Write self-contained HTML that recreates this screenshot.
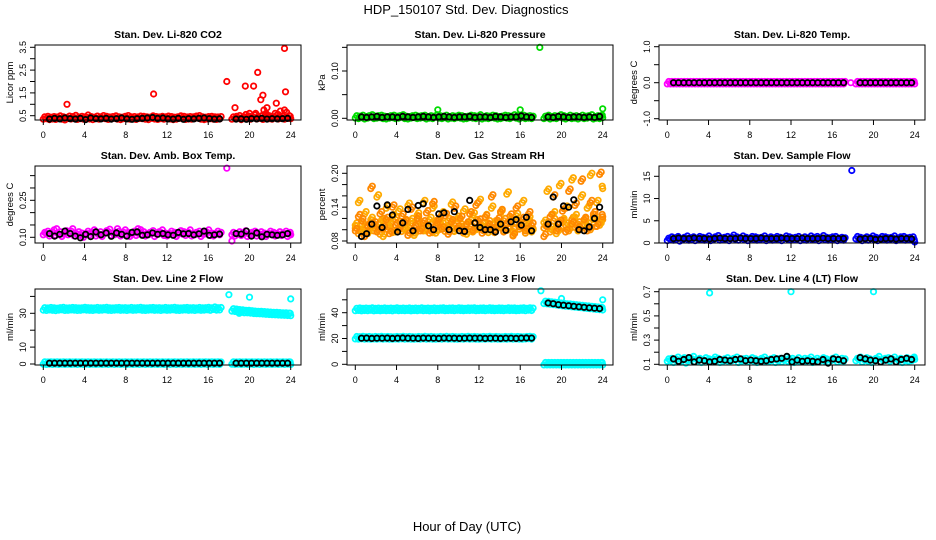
<!DOCTYPE html>
<html><head><meta charset="utf-8">
<style>
html,body{margin:0;padding:0;background:#fff;}
svg{display:block;font-family:"Liberation Sans",sans-serif;}
.pt{font-size:10.5px;font-weight:bold;}
.tk{font-size:9px;}
</style></head>
<body>
<svg id="c" width="936" height="540" viewBox="0 0 936 540">
<rect width="936" height="540" fill="#fff"/>
<text x="466" y="14" text-anchor="middle" font-size="13">HDP_150107  Std. Dev. Diagnostics</text>
<text x="467" y="531" text-anchor="middle" font-size="13">Hour of Day (UTC)</text>
</svg>
<script>
const hoursA=[0,0.3,0.6,0.9,1.2,1.5,1.8,2.1,2.4,2.7,3,3.3,3.6,3.9,4.2,4.5,4.8,5.1,5.4,5.7,6,6.3,6.6,6.9,7.2,7.5,7.8,8.1,8.4,8.7,9,9.3,9.6,9.9,10.2,10.5,10.8,11.1,11.4,11.7,12,12.3,12.6,12.9,13.2,13.5,13.8,14.1,14.4,14.7,15,15.3,15.6,15.9,16.2,16.5,16.8,17.1,18.3,18.6,18.9,19.2,19.5,19.8,20.1,20.4,20.7,21,21.3,21.6,21.9,22.2,22.5,22.8,23.1,23.4,23.7,24];
const hoursC=[0.15,0.45,0.75,1.05,1.35,1.65,1.95,2.25,2.55,2.85,3.15,3.45,3.75,4.05,4.35,4.65,4.95,5.25,5.55,5.85,6.15,6.45,6.75,7.05,7.35,7.65,7.95,8.25,8.55,8.85,9.15,9.45,9.75,10.05,10.35,10.65,10.95,11.25,11.55,11.85,12.15,12.45,12.75,13.05,13.35,13.65,13.95,14.25,14.55,14.85,15.15,15.45,15.75,16.05,16.35,16.65,16.95,17.25,18.45,18.75,19.05,19.35,19.65,19.95,20.25,20.55,20.85,21.15,21.45,21.75,22.05,22.35,22.65,22.95,23.25,23.55,23.85,23.95];
const hoursB=[0.6,1.1,1.6,2.1,2.6,3.1,3.6,4.1,4.6,5.1,5.6,6.1,6.6,7.1,7.6,8.1,8.6,9.1,9.6,10.1,10.6,11.1,11.6,12.1,12.6,13.1,13.6,14.1,14.6,15.1,15.6,16.1,16.6,17.1,18.7,19.2,19.7,20.2,20.7,21.2,21.7,22.2,22.7,23.2,23.7];
const xTicks=[0,4,8,12,16,20,24];

// Panel 1 CO2
const co2Red=[0.40,0.42,0.38,0.41,0.39,0.44,0.40,0.37,0.43,0.41,0.46,0.39,0.42,0.40,0.48,0.41,0.38,0.43,0.40,0.45,0.42,0.39,0.41,0.44,0.40,0.38,0.42,0.45,0.40,0.41,0.39,0.43,0.42,0.40,0.38,0.44,0.41,0.39,0.42,0.40,0.43,0.41,0.38,0.40,0.44,0.42,0.39,0.41,0.40,0.43,0.45,0.40,0.38,0.41,0.42,0.40,0.39,0.41,0.40,0.42,0.45,0.38,0.50,0.43,0.40,0.48,0.41,0.44,0.39,0.46,0.42,0.40,0.47,0.41,0.43,0.40,0.45,0.42];
const co2Black=[0.35,0.38,0.36,0.40,0.37,0.35,0.38,0.33,0.40,0.37,0.36,0.38,0.35,0.37,0.40,0.36,0.34,0.37,0.38,0.40,0.42,0.38,0.40,0.36,0.35,0.38,0.34,0.37,0.36,0.38,0.40,0.37,0.35,0.36,0.35,0.36,0.34,0.37,0.36,0.38,0.35,0.37,0.36,0.37,0.38];
const co2OutX=[2.3,10.7,17.8,18.6,19.6,20.0,20.4,20.6,20.8,21.1,21.3,21.4,21.6,21.7,22.6,22.5,23.0,23.4,23.5,23.4,23.6,22.8,21.9];
const co2OutY=[1.0,1.45,2.0,0.85,1.8,0.6,1.8,0.6,2.4,1.2,1.4,0.75,0.6,0.85,1.05,0.6,0.7,3.45,1.55,0.75,0.65,0.55,0.5];
// Panel 2 pressure
const presGreen=[0.003,0.002,0.004,0.001,0.003,0.005,0.002,0.003,0.004,0.002,0.001,0.003,0.004,0.002,0.003,0.005,0.002,0.001,0.003,0.004,0.002,0.003,0.004,0.001,0.003,0.002,0.005,0.003,0.002,0.004,0.001,0.003,0.002,0.004,0.003,0.001,0.002,0.004,0.003,0.002,0.005,0.001,0.003,0.002,0.004,0.003,0.001,0.002,0.004,0.003,0.002,0.005,0.003,0.001,0.004,0.002,0.003,0.002,0.002,0.004,0.001,0.003,0.002,0.005,0.003,0.001,0.004,0.002,0.003,0.001,0.004,0.002,0.003,0.005,0.001,0.003,0.002,0.004];
const presBlack=[0.003,0.002,0.003,0.004,0.002,0.003,0.003,0.002,0.004,0.003,0.002,0.003,0.004,0.003,0.002,0.003,0.004,0.003,0.002,0.003,0.003,0.004,0.002,0.003,0.003,0.002,0.004,0.003,0.002,0.003,0.003,0.005,0.003,0.002,0.003,0.002,0.004,0.003,0.002,0.003,0.003,0.002,0.003,0.002,0.004];
const presOutX=[8,16,17.9,24];
const presOutY=[0.018,0.018,0.15,0.02];
// Panel 3 temp
const tempMag=[0,0,0,0,0,0,0,0,0,0,0,0,0,0,0,0,0,0,0,0,0,0,0,0,0,0,0,0,0,0,0,0,0,0,0,0,0,0,0,0,0,0,0,0,0,0,0,0,0,0,0,0,0,0,0,0,0,0,0,0,0,0,0,0,0,0,0,0,0,0,0,0,0,0,0,0,0,0];
const tempBlack=[0,0,0,0,0,0,0,0,0,0,0,0,0,0,0,0,0,0,0,0,0,0,0,0,0,0,0,0,0,0,0,0,0,0,0,0,0,0,0,0,0,0,0,0,0];
const tempOutX=[17.8];
const tempOutY=[0];
// Panel 4 amb box
const ambMag=[0.115,0.120,0.110,0.125,0.112,0.118,0.108,0.122,0.115,0.130,0.110,0.118,0.112,0.105,0.120,0.115,0.125,0.110,0.118,0.108,0.122,0.128,0.112,0.115,0.120,0.110,0.125,0.115,0.108,0.120,0.112,0.126,0.118,0.110,0.115,0.122,0.108,0.118,0.125,0.112,0.110,0.120,0.115,0.108,0.122,0.118,0.112,0.125,0.110,0.115,0.120,0.108,0.118,0.125,0.112,0.110,0.120,0.115,0.115,0.110,0.118,0.112,0.122,0.108,0.115,0.120,0.110,0.118,0.112,0.108,0.120,0.115,0.110,0.118,0.112,0.120,0.108,0.115];
const ambBlack=[0.115,0.105,0.112,0.125,0.115,0.105,0.098,0.112,0.103,0.122,0.110,0.118,0.104,0.118,0.112,0.105,0.120,0.122,0.108,0.110,0.118,0.112,0.115,0.110,0.108,0.120,0.114,0.115,0.110,0.114,0.125,0.108,0.110,0.113,0.115,0.113,0.125,0.105,0.118,0.102,0.112,0.110,0.108,0.110,0.115];
const ambOutX=[17.8,18.3,1.3,7.2,9.2];
const ambOutY=[0.38,0.085,0.135,0.135,0.135];
// Panel 5 RH
const rhA=[0.110,0.150,0.100,0.130,0.095,0.120,0.105,0.160,0.115,0.090,0.140,0.108,0.125,0.098,0.135,0.112,0.102,0.145,0.118,0.092,0.128,0.106,0.150,0.100,0.120,0.140,0.096,0.113,0.130,0.104,0.118,0.147,0.099,0.122,0.108,0.135,0.094,0.116,0.128,0.102,0.152,0.110,0.125,0.097,0.140,0.114,0.106,0.132,0.100,0.165,0.119,0.093,0.127,0.109,0.150,0.103,0.121,0.098,0.115,0.170,0.104,0.130,0.095,0.180,0.118,0.140,0.107,0.190,0.125,0.100,0.160,0.112,0.140,0.198,0.120,0.150,0.110,0.175];
const rhB=[0.100,0.125,0.118,0.090,0.108,0.175,0.112,0.098,0.130,0.104,0.120,0.095,0.142,0.110,0.102,0.126,0.116,0.092,0.138,0.106,0.122,0.100,0.114,0.132,0.096,0.148,0.109,0.120,0.103,0.127,0.094,0.116,0.140,0.105,0.122,0.099,0.112,0.130,0.101,0.145,0.117,0.096,0.124,0.108,0.160,0.102,0.119,0.134,0.098,0.112,0.126,0.091,0.140,0.107,0.120,0.100,0.130,0.110,0.090,0.108,0.125,0.160,0.100,0.115,0.135,0.098,0.170,0.112,0.145,0.104,0.188,0.120,0.100,0.150,0.130,0.108,0.200,0.125];
const rhC=[0.105,0.095,0.112,0.102,0.098,0.115,0.100,0.108,0.094,0.118,0.103,0.110,0.097,0.120,0.106,0.099,0.114,0.101,0.109,0.096,0.117,0.104,0.100,0.112,0.108,0.097,0.115,0.102,0.110,0.099,0.107,0.113,0.100,0.118,0.104,0.096,0.111,0.103,0.098,0.116,0.105,0.109,0.100,0.114,0.102,0.097,0.112,0.106,0.118,0.101,0.108,0.099,0.115,0.103,0.110,0.096,0.113,0.100,0.105,0.112,0.098,0.118,0.108,0.102,0.115,0.110,0.100,0.120,0.106,0.112,0.104,0.118,0.110,0.102,0.125,0.108,0.115,0.120];
const rhBlack=[0.088,0.093,0.110,0.142,0.104,0.144,0.126,0.096,0.112,0.136,0.098,0.143,0.146,0.107,0.100,0.128,0.130,0.100,0.132,0.098,0.097,0.152,0.112,0.104,0.100,0.100,0.096,0.110,0.099,0.114,0.118,0.108,0.122,0.098,0.110,0.158,0.110,0.142,0.140,0.153,0.100,0.098,0.105,0.120,0.140];
// Panel 6 sample flow
const flowBlue=[0.8,1.1,0.9,1.2,0.7,1.0,1.3,0.9,1.1,0.8,1.2,1.0,0.9,1.3,0.8,1.1,1.4,0.9,1.0,1.2,0.8,1.5,1.1,0.9,1.3,1.0,0.8,1.2,1.1,0.9,1.0,1.3,0.8,1.1,0.9,1.2,1.0,0.8,1.3,1.1,0.9,1.0,1.2,0.8,1.1,0.9,1.3,1.0,1.2,0.8,1.4,1.0,0.9,1.1,1.2,0.8,1.0,0.9,1.2,1.0,0.8,1.1,0.9,1.3,1.0,0.8,1.2,1.1,0.9,1.0,1.3,0.8,1.1,1.2,0.9,1.0,1.1,0.5];
const flowBlack=[1.0,1.1,1.0,1.0,1.1,1.0,1.0,0.9,1.0,1.1,1.0,1.0,1.0,1.1,1.0,1.0,1.0,1.1,1.0,1.0,1.0,1.1,1.0,1.0,1.0,1.1,1.0,1.0,1.0,1.1,1.0,1.0,1.0,1.0,0.9,1.0,1.0,0.8,0.9,1.0,1.0,0.9,1.0,1.0,0.9];
const flowOutX=[17.9];
const flowOutY=[16.3];
// Panel 7 line 2
const l2Top=[32.6,32.4,32.7,32.5,32.3,32.6,32.8,32.4,32.5,32.7,32.6,32.4,32.5,32.8,32.6,32.5,32.4,32.7,32.5,32.6,32.8,32.5,32.4,32.6,32.7,32.5,32.6,32.4,32.7,32.5,32.6,32.8,32.5,32.4,32.6,32.7,32.5,32.6,32.4,32.7,32.5,32.6,32.8,32.5,32.4,32.6,32.7,32.5,32.6,32.4,32.7,32.5,32.6,32.8,32.5,33.0,32.6,32.7,32.0,31.8,31.5,31.3,31.0,31.0,30.8,30.6,30.5,30.4,30.3,30.1,30.0,29.9,29.8,29.7,29.6,29.5,29.4,29.3];
const l2Low=[0.6,0.5,0.6,0.5,0.6,0.5,0.6,0.5,0.6,0.5,0.6,0.5,0.6,0.5,0.6,0.5,0.6,0.5,0.6,0.5,0.6,0.5,0.6,0.5,0.6,0.5,0.6,0.5,0.6,0.5,0.6,0.5,0.6,0.5,0.6,0.5,0.6,0.5,0.6,0.5,0.6,0.5,0.6,0.5,0.6,0.5,0.6,0.5,0.6,0.5,0.6,0.5,0.6,0.5,0.6,0.5,0.6,0.5,0.6,0.5,0.6,0.5,0.6,0.5,0.6,0.5,0.6,0.5,0.6,0.5,0.6,0.5,0.6,0.5,0.6,0.5,0.6,0.5];
const l2Black=[0.5,0.5,0.5,0.5,0.5,0.5,0.5,0.5,0.5,0.5,0.5,0.5,0.5,0.5,0.5,0.5,0.5,0.5,0.5,0.5,0.5,0.5,0.5,0.5,0.5,0.5,0.5,0.5,0.5,0.5,0.5,0.5,0.5,0.5,0.5,0.5,0.5,0.5,0.5,0.5,0.5,0.5,0.5,0.5,0.5];
const l2OutX=[18,20,24,19.0];
const l2OutY=[41,39.5,38.5,30];
// Panel 8 line 3
const l3A=[42.5,42.7,42.4,42.6,42.5,42.8,42.4,42.6,42.5,42.7,42.5,42.6,42.4,42.8,42.5,42.6,42.5,42.7,42.4,42.6,42.5,42.8,42.5,42.6,42.4,42.7,42.5,42.6,42.8,42.5,42.6,42.7,42.5,42.8,42.6,42.5,42.7,42.6,42.8,42.5,42.6,42.7,42.5,42.8,42.6,42.5,42.7,42.6,42.5,42.8,42.6,42.7,42.5,42.6,42.8,42.5,42.9,42.6,0.5,0.5,0.5,0.5,0.5,0.5,0.5,0.5,0.5,0.5,0.5,0.5,0.5,0.5,0.5,0.5,0.5,0.5,0.5,0.5];
const l3B=[20.6,20.5,20.7,20.5,20.6,20.4,20.6,20.5,20.7,20.5,20.6,20.5,20.4,20.6,20.5,20.7,20.5,20.6,20.5,20.4,20.6,20.5,20.7,20.5,20.6,20.5,20.4,20.6,20.5,20.7,20.5,20.6,20.5,20.4,20.6,20.5,20.7,20.5,20.6,20.5,20.4,20.6,20.5,20.7,20.5,20.6,20.5,20.4,20.6,20.5,20.7,20.5,20.6,20.5,20.4,20.6,20.8,20.5,48,47.8,47.5,47.2,47,46.6,46.3,46,45.8,45.5,45.3,45,44.8,44.5,44.3,44,43.8,43.5,43.3,43];
const l3Black=[20.2,20.3,20.1,20.2,20.2,20.3,20.1,20.2,20.4,20.2,20.2,20.1,20.3,20.2,20.2,20.1,20.3,20.2,20.2,20.1,20.2,20.3,20.2,20.3,20.1,20.2,20.2,20.1,20.2,20.2,20.1,20.3,20.4,20.3,47.5,47,46.2,45.8,45.4,45,44.6,44.2,43.8,43.5,43.2];
const l3OutX=[18,20,24];
const l3OutY=[57,51,50];
// Panel 9 line 4
const l4Cyan=[0.135,0.14,0.125,0.15,0.13,0.145,0.12,0.14,0.155,0.13,0.14,0.125,0.145,0.135,0.13,0.15,0.14,0.125,0.135,0.145,0.13,0.14,0.15,0.125,0.135,0.14,0.13,0.145,0.135,0.125,0.14,0.15,0.13,0.135,0.145,0.125,0.14,0.13,0.15,0.135,0.14,0.125,0.145,0.13,0.14,0.135,0.15,0.125,0.14,0.13,0.145,0.135,0.125,0.14,0.15,0.13,0.14,0.135,0.14,0.15,0.13,0.145,0.135,0.125,0.14,0.155,0.13,0.14,0.145,0.135,0.15,0.13,0.14,0.125,0.145,0.135,0.14,0.15];
const l4Black=[0.145,0.125,0.14,0.155,0.12,0.135,0.13,0.12,0.125,0.14,0.135,0.13,0.14,0.145,0.13,0.135,0.13,0.125,0.13,0.14,0.145,0.15,0.165,0.12,0.135,0.125,0.13,0.125,0.12,0.14,0.11,0.145,0.14,0.13,0.155,0.145,0.135,0.13,0.12,0.135,0.145,0.12,0.14,0.15,0.14];
const l4OutX=[4.1,12,20];
const l4OutY=[0.69,0.7,0.7];

const NS="http://www.w3.org/2000/svg";
const svg=document.getElementById('c');
function mk(tag,attrs,parent){const e=document.createElementNS(NS,tag);for(const k in attrs)e.setAttribute(k,attrs[k]);(parent||svg).appendChild(e);return e;}

const rowsY=[[45,120],[166,243],[289,365]];
// series: [xs, ys, color, dense]
const panels=[
 {t:"Stan. Dev. Li-820 CO2",yl:"Licor ppm",c:0,r:0,v0:0.5,p0:115.7,v1:3.5,p1:47.3,ticks:[0.5,1,1.5,2,2.5,3,3.5],labs:[0.5,1.5,2.5,3.5],dec:1,
  series:[[hoursA,co2Red,"#ff0000",1],[co2OutX,co2OutY,"#ff0000",0],[hoursB,co2Black,"#000",0]]},
 {t:"Stan. Dev. Li-820 Pressure",yl:"kPa",c:1,r:0,v0:0,p0:118.3,v1:0.10,p1:71,ticks:[0,0.05,0.10,0.15],labs:[0,0.10],dec:2,
  series:[[hoursA,presGreen,"#00dd00",1],[presOutX,presOutY,"#00dd00",0],[hoursB,presBlack,"#000",0]]},
 {t:"Stan. Dev. Li-820 Temp.",yl:"degrees C",c:2,r:0,v0:0,p0:82.7,v1:1,p1:46.7,ticks:[-1,-0.5,0,0.5,1],labs:[-1,0,1],dec:1,
  series:[[hoursA,tempMag,"#ff00ff",1],[tempOutX,tempOutY,"#ff00ff",0],[hoursB,tempBlack,"#000",0]]},
 {t:"Stan. Dev. Amb. Box Temp.",yl:"degrees C",c:0,r:1,v0:0.10,p0:237.3,v1:0.25,p1:200.3,ticks:[0.10,0.15,0.20,0.25,0.30,0.35],labs:[0.10,0.25],dec:2,
  series:[[hoursA,ambMag,"#ff00ff",1],[ambOutX,ambOutY,"#ff00ff",0],[hoursB,ambBlack,"#000",0]]},
 {t:"Stan. Dev. Gas Stream RH",yl:"percent",c:1,r:1,v0:0.08,p0:241,v1:0.20,p1:173.3,ticks:[0.08,0.10,0.12,0.14,0.16,0.18,0.20],labs:[0.08,0.14,0.20],dec:2,
  series:[[hoursA,rhC,"#ff9900",1],[hoursA,rhA,"#ffaa00",1],[hoursA,rhB,"#ff8800",1],[hoursB,rhBlack,"#000",0]]},
 {t:"Stan. Dev. Sample Flow",yl:"ml/min",c:2,r:1,v0:0,p0:243,v1:15,p1:176.3,ticks:[0,5,10,15],labs:[0,5,10,15],dec:0,
  series:[[hoursA,flowBlue,"#0000ff",1],[flowOutX,flowOutY,"#0000ff",0],[hoursB,flowBlack,"#000",0]]},
 {t:"Stan. Dev. Line 2 Flow",yl:"ml/min",c:0,r:2,v0:0,p0:364,v1:30,p1:313.3,ticks:[0,10,20,30,40],labs:[0,10,30],dec:0,
  series:[[hoursA,l2Top,"#00ffff",1],[hoursA,l2Low,"#00ffff",1],[l2OutX,l2OutY,"#00ffff",0],[hoursB,l2Black,"#000",0]]},
 {t:"Stan. Dev. Line 3 Flow",yl:"ml/min",c:1,r:2,v0:0,p0:364.3,v1:40,p1:312.7,ticks:[0,10,20,30,40,50],labs:[0,20,40],dec:0,
  series:[[hoursA,l3A,"#00ffff",1],[hoursA,l3B,"#00ffff",1],[l3OutX,l3OutY,"#00ffff",0],[hoursB,l3Black,"#000",0]]},
 {t:"Stan. Dev. Line 4 (LT) Flow",yl:"ml/min",c:2,r:2,v0:0.1,p0:364.3,v1:0.7,p1:291.7,ticks:[0.1,0.2,0.3,0.4,0.5,0.6,0.7],labs:[0.1,0.3,0.5,0.7],dec:1,
  series:[[hoursA,l4Cyan,"#00ffff",1],[l4OutX,l4OutY,"#00ffff",0],[hoursB,l4Black,"#000",0]]}
];

panels.forEach((p,i)=>{
  const ox=312*p.c, bx0=35+ox, bx1=301+ox, by0=rowsY[p.r][0], by1=rowsY[p.r][1];
  const xs=h=>43.3+ox+h*(247.4/24);
  const ys=v=>p.p0+(v-p.v0)*(p.p1-p.p0)/(p.v1-p.v0);
  const g=mk('g',{});
  
  
  const tt=mk('text',{x:(bx0+bx1)/2,y:by0-7,'text-anchor':'middle',class:'pt'},g);
  tt.textContent=p.t;
  
  
  const pg=mk('g',{fill:'none','stroke-width':1.8},g);
  
  
  const drawSet=(X,Y,col,dy)=>{
    const n=Math.min(X.length,Y.length);
    for(let k=0;k<n;k++){
      const c=mk('circle',{cx:xs(X[k]).toFixed(1),cy:(ys(Y[k])+dy).toFixed(1),r:2.7,stroke:col},pg);
      
      
    }
  };
  p.series.forEach(s=>{
    if(s[3]){
      // dense band: draw each value at interleaved times as well
      drawSet(s[0],s[1],s[2],1.2);
      drawSet(hoursC,s[1].slice().reverse().reverse(),s[2],-1.2);
    } else drawSet(s[0],s[1],s[2],0);
  });
  const b=mk('rect',{x:bx0,y:by0,width:bx1-bx0,height:by1-by0,fill:'none',stroke:'#000','stroke-width':1},g);
  
  
  const xa=mk('g',{stroke:'#000','stroke-width':1},g);
  
  
  mk('line',{x1:xs(xTicks[0]),x2:xs(xTicks[xTicks.length-1]),y1:by1,y2:by1},xa);
  xTicks.forEach(t=>{
    mk('line',{x1:xs(t),x2:xs(t),y1:by1,y2:by1+5},xa);
    const tx=mk('text',{x:xs(t),y:by1+18,'text-anchor':'middle',class:'tk',stroke:'none',fill:'#000'},xa);
    tx.textContent=t;
    
    
  });
  const ya=mk('g',{stroke:'#000','stroke-width':1},g);
  
  
  mk('line',{x1:bx0,x2:bx0,y1:ys(p.ticks[0]),y2:ys(p.ticks[p.ticks.length-1])},ya);
  p.ticks.forEach(t=>{mk('line',{x1:bx0-5,x2:bx0,y1:ys(t),y2:ys(t)},ya);});
  p.labs.forEach(t=>{
    const yy=ys(t), xx=bx0-9;
    const tx=mk('text',{x:xx,y:yy,'text-anchor':'middle',class:'tk',stroke:'none',fill:'#000',transform:`rotate(-90 ${xx} ${yy})`},ya);
    tx.textContent=t.toFixed(p.dec);
    
    
  });
  const yx=ox+13, yy=(by0+by1)/2;
  const yl=mk('text',{x:yx,y:yy,'text-anchor':'middle','font-size':9.5,transform:`rotate(-90 ${yx} ${yy})`},g);
  yl.textContent=p.yl;
  
  
});
</script>
</body></html>
